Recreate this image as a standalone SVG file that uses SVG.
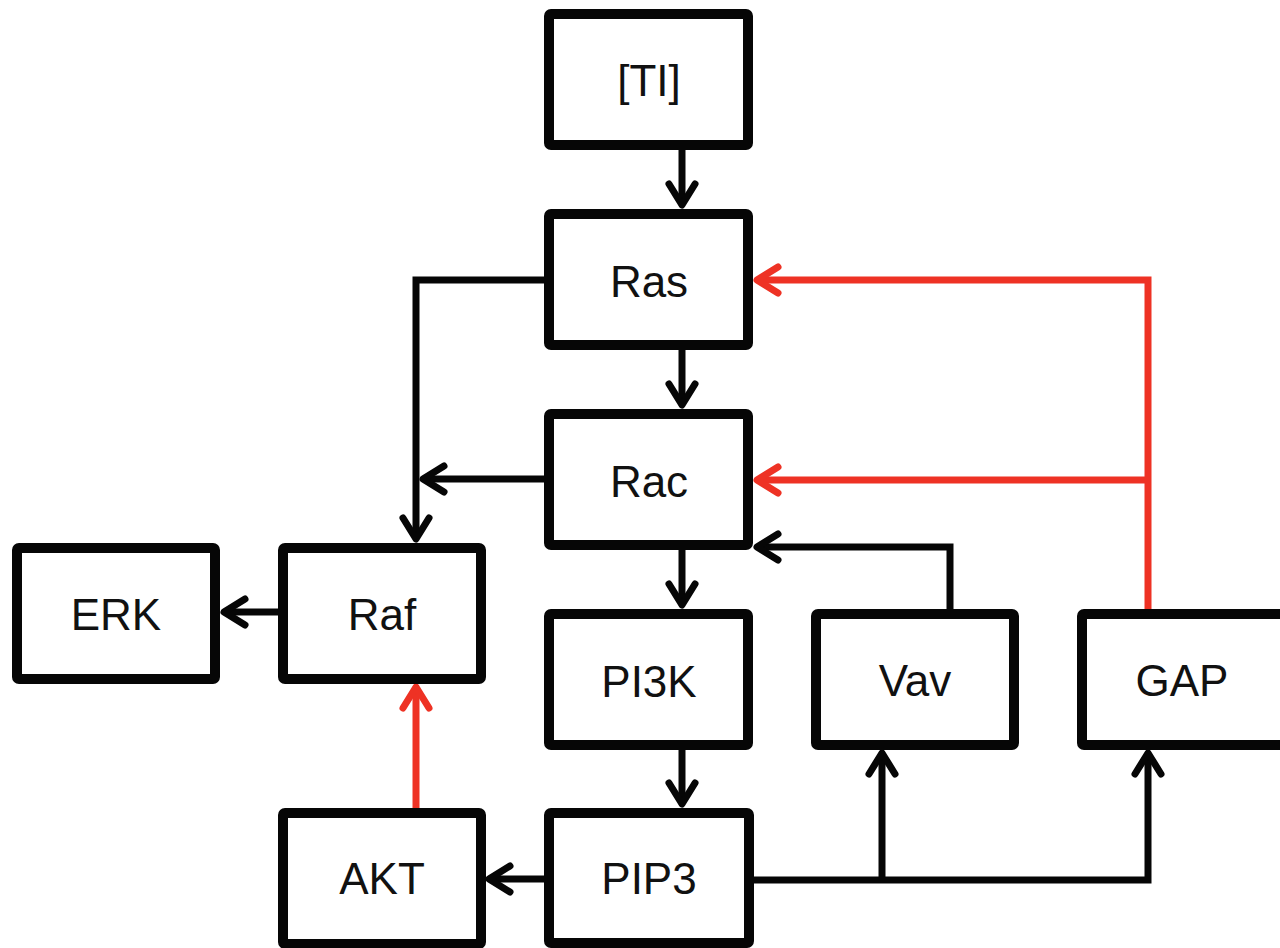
<svg xmlns="http://www.w3.org/2000/svg" width="1280" height="948" viewBox="0 0 1280 948">
<style>
.box{fill:#fff;stroke:#060606;stroke-width:10;}
.lbl{font-family:"Liberation Sans",Arial,sans-serif;font-size:44px;fill:#111;text-anchor:middle;}
.c{fill:none;stroke:#060606;stroke-width:7;stroke-linejoin:miter;}
.r{fill:none;stroke:#ee3224;stroke-width:7;stroke-linejoin:miter;}
</style>
<defs>
<marker id="ah" viewBox="-30 -20 40 40" markerWidth="40" markerHeight="40" refX="0" refY="0" orient="auto" markerUnits="userSpaceOnUse">
<path d="M-21,-13 L0,0 L-21,13" fill="none" stroke="#060606" stroke-width="7" stroke-linecap="round" stroke-linejoin="round"/>
</marker>
<marker id="ahr" viewBox="-30 -20 40 40" markerWidth="40" markerHeight="40" refX="0" refY="0" orient="auto" markerUnits="userSpaceOnUse">
<path d="M-21,-13 L0,0 L-21,13" fill="none" stroke="#ee3224" stroke-width="7" stroke-linecap="round" stroke-linejoin="round"/>
</marker>
</defs>
<rect width="1280" height="948" fill="#fff"/>
<g id="connectors">
<path class="c" d="M682,150 L682,205" marker-end="url(#ah)"/>
<path class="c" d="M682,350 L682,405" marker-end="url(#ah)"/>
<path class="c" d="M682,550 L682,605" marker-end="url(#ah)"/>
<path class="c" d="M682,750 L682,804" marker-end="url(#ah)"/>
<path class="c" d="M544,280 L416,280 L416,539" marker-end="url(#ah)"/>
<path class="c" d="M544,479 L423,479" marker-end="url(#ah)"/>
<path class="c" d="M278,612 L224,612" marker-end="url(#ah)"/>
<path class="c" d="M544,879 L489,879" marker-end="url(#ah)"/>
<path class="c" d="M753,880 L1148,880 L1148,753" marker-end="url(#ah)"/>
<path class="c" d="M882,880 L882,753" marker-end="url(#ah)"/>
<path class="c" d="M950,609 L950,547 L757,547" marker-end="url(#ah)"/>
<path class="r" d="M1148,609 L1148,280 L757,280" marker-end="url(#ahr)"/>
<path class="r" d="M1148,480 L757,480" marker-end="url(#ahr)"/>
<path class="r" d="M416,808 L416,687" marker-end="url(#ahr)"/>
</g>
<g id="node-TI"><rect class="box" x="549" y="14" width="199" height="131" rx="2"/><text class="lbl" x="649" y="96">[TI]</text></g>
<g id="node-Ras"><rect class="box" x="549" y="214" width="199" height="131" rx="2"/><text class="lbl" x="649" y="297">Ras</text></g>
<g id="node-Rac"><rect class="box" x="549" y="414" width="199" height="131" rx="2"/><text class="lbl" x="649" y="497">Rac</text></g>
<g id="node-PI3K"><rect class="box" x="549" y="614" width="199" height="131" rx="2"/><text class="lbl" x="649" y="697">PI3K</text></g>
<g id="node-PIP3"><rect class="box" x="549" y="813" width="200" height="130" rx="2"/><text class="lbl" x="649" y="894">PIP3</text></g>
<g id="node-Raf"><rect class="box" x="283" y="548" width="198" height="131" rx="2"/><text class="lbl" x="382" y="630">Raf</text></g>
<g id="node-ERK"><rect class="box" x="17" y="548" width="198" height="131" rx="2"/><text class="lbl" x="116" y="630">ERK</text></g>
<g id="node-AKT"><rect class="box" x="283" y="813" width="198" height="131" rx="2"/><text class="lbl" x="382" y="894">AKT</text></g>
<g id="node-Vav"><rect class="box" x="816" y="614" width="198" height="131" rx="2"/><text class="lbl" x="915" y="696">Vav</text></g>
<g id="node-GAP"><rect class="box" x="1082" y="614" width="206" height="131" rx="2"/><text class="lbl" x="1182" y="696">GAP</text></g>
</svg>
